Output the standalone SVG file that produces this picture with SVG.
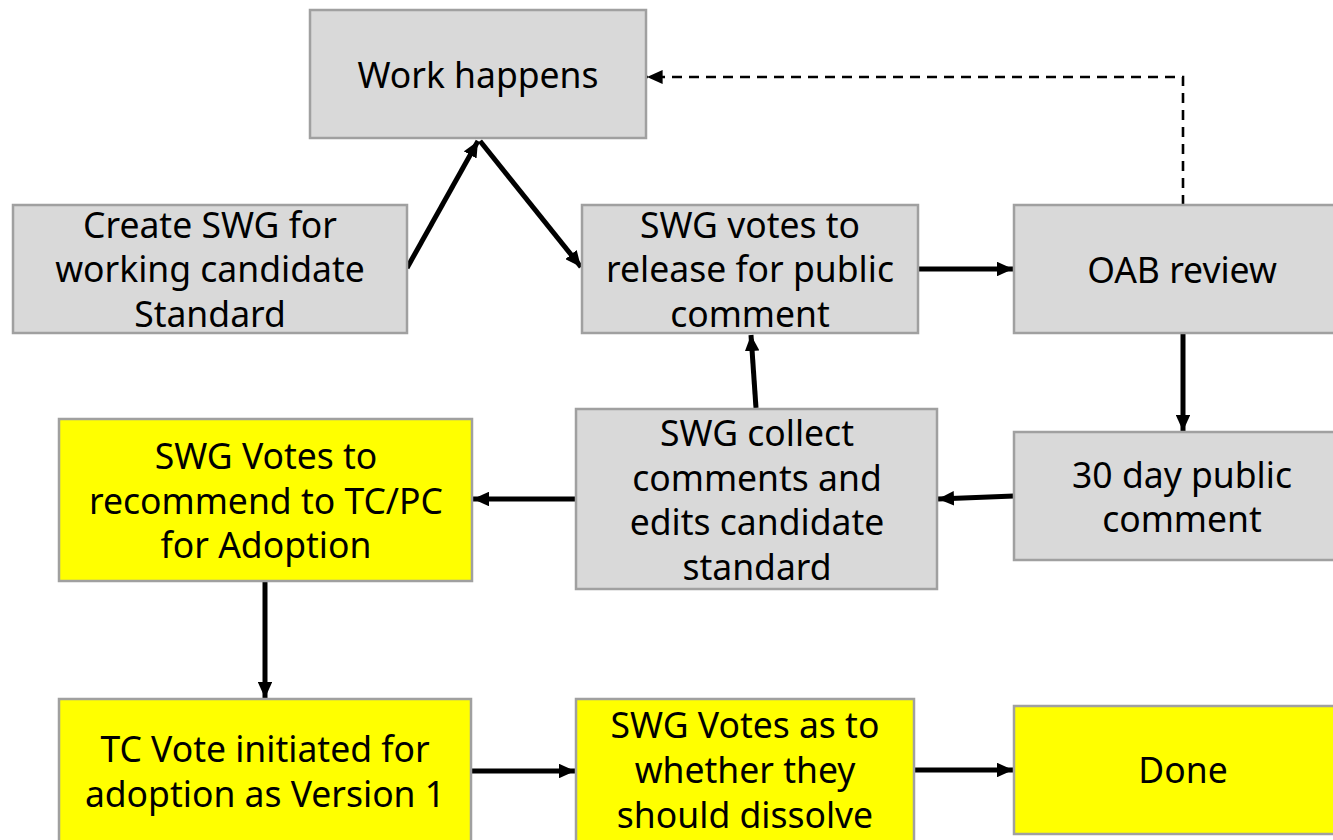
<svg xmlns="http://www.w3.org/2000/svg" width="1333" height="840" viewBox="0 0 1333 840">
<style>
.g{fill:#d9d9d9;stroke:#a0a0a0;stroke-width:2.5}
.y{fill:#ffff00;stroke:#a0a0a0;stroke-width:2.5}
text{font-family:"Noto Sans","Liberation Sans",sans-serif;font-size:35.5px;fill:#000;text-anchor:middle}
.c{stroke:#000;stroke-width:5;fill:none;marker-end:url(#ah)}
.d{stroke:#000;stroke-width:2.6;fill:none;stroke-dasharray:10 7;marker-end:url(#ahd)}
</style>
<defs>
<marker id="ah" markerWidth="3.2" markerHeight="2.9" refX="3.2" refY="1.45" orient="auto" markerUnits="strokeWidth">
<path d="M0,0 L3.2,1.45 L0,2.9 Z" fill="#000"/>
</marker>
<marker id="ahd" markerWidth="6" markerHeight="5.4" refX="6" refY="2.7" orient="auto" markerUnits="strokeWidth">
<path d="M0,0 L6,2.7 L0,5.4 Z" fill="#000"/>
</marker>
</defs>
<rect width="1333" height="840" fill="#fff"/>
<g id="connectors">
<path class="c" d="M407,268 L478,141"/>
<path class="c" d="M480,141 L581,267"/>
<path class="c" d="M919,269 L1013,269"/>
<path class="c" d="M1183,334 L1183,431"/>
<path class="c" d="M1014,496 L938,499"/>
<path class="c" d="M756,408 L751,335"/>
<path class="c" d="M576,499 L473,499"/>
<path class="c" d="M265,582 L265,698"/>
<path class="c" d="M472,771 L575,771"/>
<path class="c" d="M915,770 L1013,770"/>
<path class="d" d="M1183,205 L1183,77 L647,77"/>
</g>
<g id="n1"><rect class="g" x="310" y="10" width="336" height="128"/><text x="478" y="88">Work happens</text></g>
<g id="n2"><rect class="g" x="13" y="205" width="394" height="128"/><text x="210" y="238">Create SWG for</text><text x="210" y="282">working candidate</text><text x="210" y="327">Standard</text></g>
<g id="n3"><rect class="g" x="582" y="205" width="336" height="128"/><text x="750" y="238">SWG votes to</text><text x="750" y="282">release for public</text><text x="750" y="327">comment</text></g>
<g id="n4"><rect class="g" x="1014" y="205" width="336" height="128"/><text x="1182" y="283">OAB review</text></g>
<g id="n5"><rect class="g" x="1014" y="432" width="336" height="128"/><text x="1182" y="488">30 day public</text><text x="1182" y="532">comment</text></g>
<g id="n6"><rect class="g" x="576" y="409" width="361" height="180"/><text x="757" y="446">SWG collect</text><text x="757" y="491">comments and</text><text x="757" y="535">edits candidate</text><text x="757" y="580">standard</text></g>
<g id="n7"><rect class="y" x="59" y="419" width="413" height="162"/><text x="266" y="469">SWG Votes to</text><text x="266" y="514">recommend to TC/PC</text><text x="266" y="558">for Adoption</text></g>
<g id="n8"><rect class="y" x="59" y="699" width="412" height="160"/><text x="265" y="762">TC Vote initiated for</text><text x="265" y="807">adoption as Version 1</text></g>
<g id="n9"><rect class="y" x="576" y="699" width="338" height="160"/><text x="745" y="738">SWG Votes as to</text><text x="745" y="783">whether they</text><text x="745" y="828">should dissolve</text></g>
<g id="n10"><rect class="y" x="1014" y="706" width="336" height="128"/><text x="1183" y="783">Done</text></g>
</svg>
